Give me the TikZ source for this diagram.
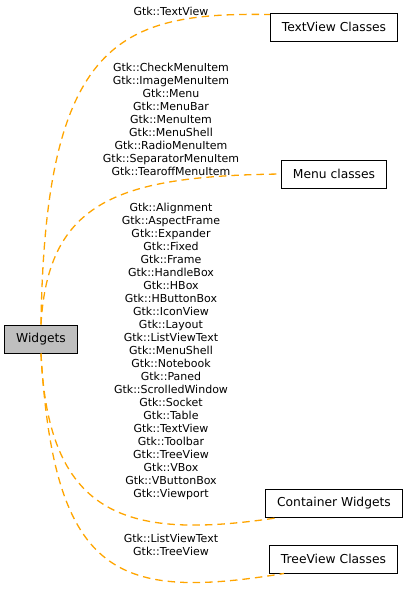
\documentclass[tikz,border=0pt]{standalone}
\usepackage{fontspec}
\setmainfont{DejaVu Sans}
\usetikzlibrary{positioning,calc}
\definecolor{grpEdge}{HTML}{FFA500}
\definecolor{grpFill}{HTML}{BFBFBF}
\tikzset{
  grpnode/.style={
    draw=black, fill=white, line width=1pt, minimum height=28pt, inner xsep=11.5pt,
    font=\fontsize{12.3}{14}\selectfont
  },
  curnode/.style={grpnode, fill=grpFill},
  memberlist/.style={align=center, inner sep=0pt, font=\fontsize{11}{13}\selectfont},
  grpedge/.style={draw=grpEdge, line width=1.3pt, dash pattern=on 7.5pt off 5pt}
}

\begin{document}
\begin{tikzpicture}[x=1pt, y=-1pt]
  \useasboundingbox (0,0) rectangle (408,608);
  % group nodes
  \node[curnode] (widgets) at (41,339) {Widgets};
  \node[grpnode] (textview) at (334,27) {TextView Classes};
  \node[grpnode] (menu) at (334,174) {Menu classes};
  \node[grpnode] (container) at (334,503) {Container Widgets};
  \node[grpnode] (treeview) at (333.5,559) {TreeView Classes};
  % member lists on the edges
  \node[memberlist] (lblTextView) at (171,11) {Gtk::TextView};
  \node[memberlist] (lblMenu) at (171,119) {Gtk::CheckMenuItem\\Gtk::ImageMenuItem\\Gtk::Menu\\Gtk::MenuBar\\Gtk::MenuItem\\Gtk::MenuShell\\Gtk::RadioMenuItem\\Gtk::SeparatorMenuItem\\Gtk::TearoffMenuItem};
  \node[memberlist] (lblContainer) at (171,351) {Gtk::Alignment\\Gtk::AspectFrame\\Gtk::Expander\\Gtk::Fixed\\Gtk::Frame\\Gtk::HandleBox\\Gtk::HBox\\Gtk::HButtonBox\\Gtk::IconView\\Gtk::Layout\\Gtk::ListViewText\\Gtk::MenuShell\\Gtk::Notebook\\Gtk::Paned\\Gtk::ScrolledWindow\\Gtk::Socket\\Gtk::Table\\Gtk::TextView\\Gtk::Toolbar\\Gtk::TreeView\\Gtk::VBox\\Gtk::VButtonBox\\Gtk::Viewport};
  \node[memberlist] (lblTreeView) at (171,545) {Gtk::ListViewText\\Gtk::TreeView};
  % edges
  \draw[grpedge] (widgets.north) .. controls (45,40) and (120,12) .. ([yshift=-2pt]textview.north west);
  \draw[grpedge] (widgets.north) .. controls (48,200) and (120,176) .. (menu.west);
  \draw[grpedge] (widgets.south) .. controls (48,520) and (130,540) .. ([xshift=14pt]container.south west);
  \draw[grpedge] (widgets.south) .. controls (54,580) and (120,600) .. ([xshift=15pt]treeview.south west);
\end{tikzpicture}
\end{document}
